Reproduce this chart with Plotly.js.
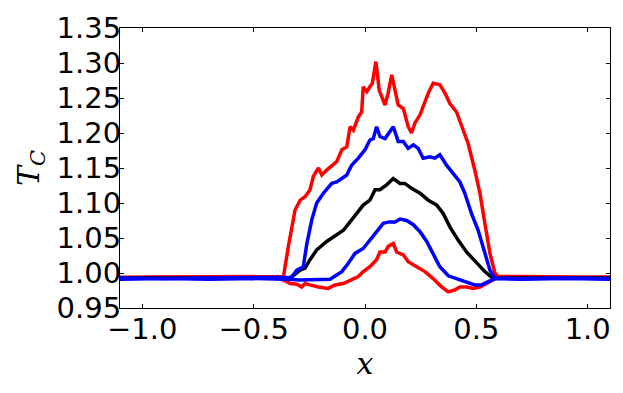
<!DOCTYPE html>
<html>
<head>
<meta charset="utf-8">
<script src="https://cdn.plot.ly/plotly-3.0.1.min.js"></script>
<style>
  html, body { margin: 0; padding: 0; background: #fff; }
  #chart { width: 623px; height: 393px; }
</style>
</head>
<body>
<div id="chart"></div>
<script>
// values
const redTopX = [-1.1, -0.9, -0.7, -0.5, -0.4, -0.366, -0.344, -0.314, -0.291, -0.269, -0.247, -0.232, -0.209, -0.194, -0.172,
  -0.149, -0.127, -0.104, -0.082, -0.067, -0.052, -0.030, -0.015, -0.008, 0.008, 0.022, 0.033, 0.049, 0.064,
  0.090, 0.104, 0.120, 0.135, 0.149, 0.172, 0.194, 0.209, 0.224, 0.247, 0.261, 0.284, 0.306, 0.336, 0.359,
  0.381, 0.411, 0.434, 0.463, 0.493, 0.516, 0.538, 0.561, 0.583, 0.598, 0.7, 0.9, 1.1];
const redTopY = [0.994, 0.994, 0.995, 0.994, 0.994, 0.995, 1.038, 1.090, 1.104, 1.109, 1.119, 1.138, 1.150, 1.140, 1.147,
  1.154, 1.159, 1.176, 1.180, 1.209, 1.204, 1.223, 1.230, 1.266, 1.259, 1.266, 1.271, 1.302, 1.261,
  1.240, 1.257, 1.283, 1.261, 1.240, 1.235, 1.209, 1.200, 1.214, 1.226, 1.238, 1.257, 1.271, 1.269, 1.257,
  1.242, 1.230, 1.209, 1.185, 1.147, 1.114, 1.071, 1.028, 1.000, 0.995, 0.995, 0.994, 0.994];

const redLowX = [-1.1, -0.9, -0.7, -0.5, -0.4, -0.366, -0.336, -0.306, -0.284, -0.269, -0.247, -0.209, -0.165, -0.135, -0.097,
  -0.060, -0.030, -0.008, 0.022, 0.052, 0.067, 0.090, 0.104, 0.127, 0.142, 0.172, 0.194, 0.232, 0.269,
  0.306, 0.344, 0.374, 0.404, 0.426, 0.456, 0.486, 0.516, 0.546, 0.575, 0.591, 0.7, 0.9, 1.1];
const redLowY = [0.993, 0.994, 0.993, 0.994, 0.993, 0.990, 0.985, 0.984, 0.980, 0.985, 0.983, 0.980, 0.978, 0.983, 0.985,
  0.990, 0.995, 1.002, 1.009, 1.019, 1.030, 1.030, 1.038, 1.042, 1.030, 1.026, 1.016, 1.009, 1.002,
  0.992, 0.980, 0.973, 0.976, 0.980, 0.980, 0.978, 0.980, 0.985, 0.990, 0.993, 0.994, 0.993, 0.994];

const blackX = [-1.1, -0.7, -0.4, -0.336, -0.291, -0.269, -0.247, -0.217, -0.172, -0.127, -0.097, -0.067, -0.037, -0.008,
  0.022, 0.045, 0.067, 0.097, 0.127, 0.157, 0.179, 0.209, 0.247, 0.284, 0.322, 0.351, 0.381, 0.418,
  0.456, 0.501, 0.538, 0.575, 0.7, 1.1];
const blackY = [0.993, 0.993, 0.993, 0.993, 1.004, 1.007, 1.019, 1.033, 1.045, 1.054, 1.061, 1.073, 1.085, 1.097,
  1.104, 1.119, 1.119, 1.126, 1.135, 1.128, 1.128, 1.121, 1.114, 1.104, 1.097, 1.085, 1.066, 1.047,
  1.030, 1.014, 1.002, 0.992, 0.993, 0.993];

const blueTopX = [-1.1, -0.9, -0.7, -0.5, -0.4, -0.33, -0.306, -0.277, -0.261, -0.239, -0.217, -0.187, -0.149, -0.127, -0.104,
  -0.082, -0.060, -0.030, 0.000, 0.022, 0.037, 0.052, 0.067, 0.090, 0.127, 0.149, 0.172, 0.194, 0.217,
  0.239, 0.261, 0.291, 0.314, 0.336, 0.366, 0.396, 0.426, 0.448, 0.478, 0.508, 0.538, 0.561, 0.583,
  0.7, 0.9, 1.1];
const blueTopY = [0.993, 0.992, 0.993, 0.993, 0.993, 0.994, 1.004, 1.009, 1.042, 1.076, 1.100, 1.114, 1.128, 1.130, 1.135,
  1.140, 1.154, 1.164, 1.176, 1.190, 1.192, 1.209, 1.195, 1.192, 1.209, 1.188, 1.188, 1.178, 1.183,
  1.178, 1.164, 1.166, 1.164, 1.169, 1.154, 1.142, 1.130, 1.114, 1.085, 1.061, 1.028, 1.004, 0.993,
  0.992, 0.993, 0.992];

const blueLowX = [-1.1, -0.9, -0.7, -0.5, -0.35, -0.291, -0.157, -0.135, -0.104, -0.075, -0.045, -0.008, 0.022, 0.052,
  0.082, 0.109, 0.135, 0.157, 0.187, 0.217, 0.247, 0.277, 0.306, 0.336, 0.374, 0.411, 0.448, 0.493,
  0.523, 0.553, 0.583, 0.7, 0.9, 1.1];
const blueLowY = [0.991, 0.992, 0.991, 0.992, 0.991, 0.990, 0.991, 0.995, 1.002, 1.014, 1.028, 1.035, 1.047, 1.061,
  1.071, 1.073, 1.073, 1.077, 1.075, 1.069, 1.059, 1.045, 1.026, 1.009, 0.996, 0.992, 0.988, 0.983,
  0.983, 0.988, 0.992, 0.991, 0.992, 0.991];

const yTicks = [0.95, 1.00, 1.05, 1.10, 1.15, 1.20, 1.25, 1.30, 1.35];
const xTicks = [-1.0, -0.5, 0.0, 0.5, 1.0];

function line(x, y, color) {
  return { x: x, y: y, mode: 'lines', line: { color: color, width: 3.5 }, hoverinfo: 'skip' };
}

const traces = [
  line(redTopX, redTopY, '#ff0000'),
  line(redLowX, redLowY, '#ff0000'),
  line(blackX, blackY, '#000000'),
  line(blueTopX, blueTopY, '#0000ff'),
  line(blueLowX, blueLowY, '#0000ff')
];

const axisCommon = {
  showline: true,
  linecolor: '#000',
  linewidth: 1,
  mirror: 'ticks',
  ticks: 'inside',
  ticklen: 4,
  tickcolor: '#000',
  showgrid: false,
  zeroline: false,
  tickfont: { family: 'DejaVu Sans', size: 29, color: '#000' }
};

const layout = {
  width: 623,
  height: 393,
  margin: { l: 120, r: 13, t: 28, b: 85 },
  paper_bgcolor: '#fff',
  plot_bgcolor: '#fff',
  showlegend: false,
  xaxis: {
    ...axisCommon,
    range: [-1.1, 1.1],
    tickvals: xTicks,
    tickformat: '.1f',
    ticklabelstandoff: -5,
    title: { text: '<i>x</i>', font: { family: 'DejaVu Serif', size: 30, color: '#000' }, standoff: 4 }
  },
  yaxis: {
    ...axisCommon,
    range: [0.95, 1.35],
    tickvals: yTicks,
    tickformat: '.2f',
    ticklabelstandoff: -8,
    title: { text: '<i>T</i><sub><i>C</i></sub>', font: { family: 'DejaVu Serif', size: 30, color: '#000' }, standoff: 8 }
  }
};

Plotly.newPlot('chart', traces, layout, { staticPlot: true });
</script>
</body>
</html>
